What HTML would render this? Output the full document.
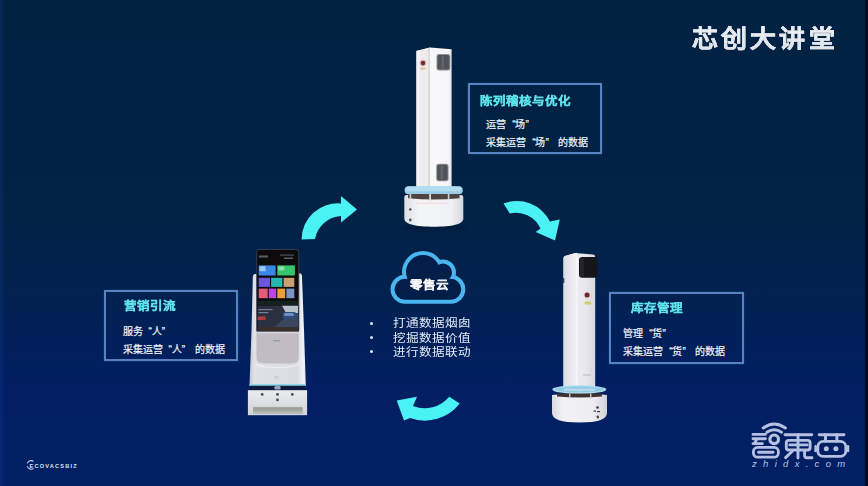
<!DOCTYPE html>
<html lang="zh-CN"><head><meta charset="utf-8">
<style>
*{margin:0;padding:0;box-sizing:border-box}
html,body{width:868px;height:486px;overflow:hidden}
body{position:relative;font-family:"Liberation Sans",sans-serif;
background:linear-gradient(180deg,rgb(2,34,66) 0%,rgb(2,34,70) 45%,rgb(2,34,78) 58%,rgb(1,32,90) 70%,rgb(1,31,98) 80%,rgb(1,31,99) 100%);}
.abs{position:absolute}
.title{left:691.5px;top:23px;font-size:26px;font-weight:bold;color:#eceff4;letter-spacing:3.3px;white-space:nowrap;line-height:32px;transform:scaleY(.91);transform-origin:50% 50%;-webkit-text-stroke:.35px #dfe3ea;background:linear-gradient(180deg,#ffffff 0%,#f2f4f7 45%,#d6dae2 100%);-webkit-background-clip:text;background-clip:text;-webkit-text-fill-color:transparent}
.box{position:absolute;width:134px;height:71px;border:2px solid #5882c0;box-shadow:0 0 2px rgba(70,130,210,.35)}
.box .t{position:absolute;font-size:12.5px;font-weight:bold;color:#5fe2ea;white-space:nowrap;line-height:14px;transform:scaleY(.9);transform-origin:0 50%;-webkit-text-stroke:.3px #5fe2ea}
.box .l{position:absolute;font-size:10px;color:#f2f4f8;white-space:nowrap;line-height:12px;-webkit-text-stroke:.2px #f2f4f8}
.bul{position:absolute;font-size:12.6px;color:#e6eaf6;white-space:nowrap;line-height:14px;transform:scaleY(.86);transform-origin:0 50%}
.qa{display:inline-block;width:.9em;text-align:right}.qb{display:inline-block;width:.9em;text-align:left}.sp{display:inline-block;width:4px}
.cl{font-size:12.5px;font-weight:bold;color:#f4f6fa;line-height:14px;white-space:nowrap;transform:scaleY(.9);transform-origin:0 50%;-webkit-text-stroke:.25px #f4f6fa;z-index:2}
.dot{position:absolute;width:3px;height:3px;border-radius:50%;background:#dfe6f0}
</style></head>
<body>
<div class="abs" style="left:0;top:0;width:3px;height:486px;background:rgba(30,70,170,.18)"></div>
<div class="abs" style="left:865px;top:0;width:3px;height:486px;background:#040a1c"></div>

<div class="abs title">芯创大讲堂</div>

<!-- boxes -->
<div class="box" style="left:468.3px;top:82.8px">
  <div class="t" style="left:10.2px;top:9.2px">陈列稽核与优化</div>
  <div class="l" style="left:16.2px;top:34.7px">运营<span class="qa">“</span>场<span class="qb">”</span></div>
  <div class="l" style="left:16.2px;top:52.7px">采集运营<span class="qa">“</span>场<span class="qb">”</span><span class="sp"></span>的数据</div>
</div>
<div class="box" style="left:104px;top:290px">
  <div class="t" style="left:18.3px;top:7.2px">营销引流</div>
  <div class="l" style="left:16.8px;top:34px">服务<span class="qa">“</span>人<span class="qb">”</span></div>
  <div class="l" style="left:16.8px;top:52px">采集运营<span class="qa">“</span>人<span class="qb">”</span><span class="sp"></span>的数据</div>
</div>
<div class="box" style="left:608.6px;top:291.7px;width:135px;height:72px">
  <div class="t" style="left:20.5px;top:7.7px">库存管理</div>
  <div class="l" style="left:12.9px;top:34.5px">管理<span class="qa">“</span>货<span class="qb">”</span></div>
  <div class="l" style="left:12.9px;top:52.8px">采集运营<span class="qa">“</span>货<span class="qb">”</span><span class="sp"></span>的数据</div>
</div>

<!-- bullets -->
<div class="abs cl" style="left:409.5px;top:277.5px">零售云</div>
<div class="dot" style="left:370px;top:322px"></div>
<div class="dot" style="left:370px;top:336px"></div>
<div class="dot" style="left:370px;top:350px"></div>
<div class="bul" style="left:393px;top:317.2px">打通数据烟囱</div>
<div class="bul" style="left:393px;top:331.6px">挖掘数据价值</div>
<div class="bul" style="left:393px;top:346px">进行数据联动</div>

<svg class="abs" style="left:0;top:0" width="868" height="486" viewBox="0 0 868 486">
  <defs>
    <linearGradient id="colL" x1="0" x2="1"><stop offset="0" stop-color="#e6ecf6"/><stop offset=".15" stop-color="#f6f7fa"/><stop offset=".3" stop-color="#efeced"/><stop offset=".8" stop-color="#eeeced"/><stop offset="1" stop-color="#cfd1d4"/></linearGradient>
    <linearGradient id="colR" x1="0" x2="1"><stop offset="0" stop-color="#f4f5f7"/><stop offset=".3" stop-color="#f8f8fa"/><stop offset=".9" stop-color="#f6f6f8"/><stop offset="1" stop-color="#e4e6ea"/></linearGradient>
    <linearGradient id="base" x1="0" x2="1"><stop offset="0" stop-color="#dcdfe4"/><stop offset=".25" stop-color="#f4f5f7"/><stop offset=".8" stop-color="#f0f1f4"/><stop offset="1" stop-color="#d4d7dc"/></linearGradient>
    <linearGradient id="colL2" x1="0" x2="1"><stop offset="0" stop-color="#dcdde4"/><stop offset=".5" stop-color="#e8e9ee"/><stop offset="1" stop-color="#f2f2f6"/></linearGradient>
    <linearGradient id="colR2" x1="0" x2="1"><stop offset="0" stop-color="#eeeef3"/><stop offset=".7" stop-color="#e8e8ee"/><stop offset="1" stop-color="#d6d7df"/></linearGradient>
    <linearGradient id="base2" x1="0" x2="1"><stop offset="0" stop-color="#d8dae0"/><stop offset=".2" stop-color="#f2f2f5"/><stop offset=".75" stop-color="#eeeef2"/><stop offset="1" stop-color="#cfd2d8"/></linearGradient>
    <linearGradient id="kbody" x1="0" x2="1"><stop offset="0" stop-color="#bfc3cc"/><stop offset=".08" stop-color="#dfe1e6"/><stop offset=".85" stop-color="#dadce2"/><stop offset=".95" stop-color="#f0f2f6"/><stop offset="1" stop-color="#e2e6ec"/></linearGradient>
    <linearGradient id="kbase" x1="0" x2="0" y1="0" y2="1"><stop offset="0" stop-color="#eaebee"/><stop offset="1" stop-color="#d2d3d8"/></linearGradient>
    <filter id="sh" x="-20%" y="-100%" width="140%" height="300%"><feGaussianBlur stdDeviation="1.2"/></filter>
  </defs>
  <!-- cloud -->
  <path d="M390.5,289.3 a14.5,14.5 0 1,0 29.0,0 a14.5,14.5 0 1,0 -29.0,0 Z M402,272 a21,21 0 1,0 42,0 a21,21 0 1,0 -42,0 Z M430,272.5 a13,13 0 1,0 26,0 a13,13 0 1,0 -26,0 Z M436.3,289.3 a14.5,14.5 0 1,0 29.0,0 a14.5,14.5 0 1,0 -29.0,0 Z M405,280 v23.8 h45.8 v-23.8 Z " fill="#4ab6f0"/>
  <path d="M394.5,289.3 a10.5,10.5 0 1,0 21.0,0 a10.5,10.5 0 1,0 -21.0,0 Z M406,272 a17,17 0 1,0 34,0 a17,17 0 1,0 -34,0 Z M434,272.5 a9,9 0 1,0 18,0 a9,9 0 1,0 -18,0 Z M440.3,289.3 a10.5,10.5 0 1,0 21.0,0 a10.5,10.5 0 1,0 -21.0,0 Z M405,280 v19.8 h45.8 v-19.8 Z " fill="#031e48"/>
  

  <!-- arrows -->
  <g fill="#4af2f5">
    <path d="M301.6,239.4 A36,36 0 0 1 341,203.5 L341,196 L357,209.5 L341,222.5 L341,216 A28,28 0 0 0 315,239 Z"/>
    <path d="M503.5,203.5 A37,37 0 0 1 550,221.5 L559.8,219.6 L555,240.6 L535.7,232 L540.5,228.5 A27,27 0 0 0 509.8,213.5 Z"/>
    <path d="M459.7,403.5 A44,44 0 0 1 410,418 L404,420.5 L396.7,400.4 L417,396.7 L413,406 A32,32 0 0 0 449.2,396.7 Z"/>
  </g>

  <!-- top robot -->
  <g>
    <path d="M416.4,51 L430,47.4 L451.6,49.3 L451.6,188 L416.4,188 Z" fill="url(#colR)"/>
    <path d="M416.4,51 L430,47.4 L430,188 L416.4,188 Z" fill="url(#colL)"/>
    <rect x="436.5" y="54" width="13.8" height="16.6" rx="2.5" fill="#8e9096"/>
    <rect x="437.5" y="55" width="11.8" height="14.6" rx="2" fill="#50535a"/>
    <rect x="441.5" y="56" width="2.5" height="12.6" fill="#62656c"/>
    <rect x="436.2" y="163.8" width="12.4" height="17.4" rx="2.5" fill="#8e9096"/>
    <rect x="437.2" y="164.8" width="10.4" height="15.4" rx="2" fill="#50535a"/>
    <rect x="440.5" y="166" width="2.5" height="13" fill="#62656c"/>
    <circle cx="423" cy="63.1" r="3.5" fill="#e2c4c8"/>
    <circle cx="423" cy="63.1" r="2.3" fill="#7a2a32"/>
    <rect x="420.3" y="67.8" width="5.4" height="1.8" rx=".6" fill="#dcc08a"/>
    <ellipse cx="434" cy="227.5" rx="31" ry="3.2" fill="#001530" opacity=".45" filter="url(#sh)"/>
    <path d="M404.3,197 Q404.3,195 406.5,195 L461,195 Q463.3,195 463.3,197 L463.3,218.5 C463.3,224.5 452,226.7 434,226.7 C416,226.7 404.3,224.5 404.3,218.5 Z" fill="url(#base)"/>
    <path d="M408,193 L459.5,193 L459.5,198.2 Q434,200.6 408,198.2 Z" fill="#4e4542"/>
    <rect x="409.6" y="193" width="1.6" height="6" fill="#cfd0d2"/>
    <rect x="429.2" y="193" width="1.8" height="7.5" fill="#d6d7d9"/>
    <rect x="447.8" y="193" width="1.6" height="6.5" fill="#cfd0d2"/>
    <rect x="416" y="202.6" width="33" height="1.2" fill="#f2dada"/>
    <rect x="404.6" y="186.3" width="58.2" height="7.8" rx="3.9" fill="#9ccde6"/>
    <rect x="406" y="186.6" width="55.4" height="4.6" rx="2.3" fill="#b2dcef"/>
    <circle cx="410.3" cy="209.4" r="1.2" fill="#4a4a4e"/>
    <rect x="409.2" y="218.4" width="2.2" height="3" rx="0.8" fill="#4a4a4e"/>
  </g>
  <!-- right robot -->
  <g>
    <path d="M563.5,258 Q563.5,256.4 565,256 L575,253 L593,254.6 Q595.2,255 595.2,257 L595.2,389 L563.5,389 Z" fill="url(#colR2)"/>
    <path d="M563.5,258 Q563.5,256.4 565,256 L577,252.8 L577,389 L563.5,389 Z" fill="url(#colL2)"/>
    <rect x="576.4" y="256" width="1.2" height="133" fill="#f8f8fb"/>
    <rect x="562.8" y="278" width="1.5" height="5" fill="#3a3f55"/>
    <rect x="579" y="257" width="18.8" height="20.8" rx="3.2" fill="#15161a"/>
    <rect x="580" y="258" width="4" height="18.8" rx="1.5" fill="#23252b"/>
    <circle cx="587.1" cy="295.1" r="3.6" fill="#e8cfd4"/>
    <circle cx="587.1" cy="295.1" r="2.5" fill="#6e2830"/>
    <rect x="584.6" y="301.6" width="6.6" height="3" rx="1.2" fill="#c9d16a"/>
    <rect x="583" y="374.5" width="8" height="1" fill="#b8bac2"/>
    <ellipse cx="579.3" cy="389.5" rx="27" ry="4.3" fill="#b4dcef"/>
    <ellipse cx="579.3" cy="389.4" rx="24.5" ry="2.9" fill="#8ccae6"/>
    <path d="M564,388.6 L595,388.6 L595,390.8 Q579.5,391.6 564,390.8 Z" fill="#dfe6ee" opacity=".55"/>
    <path d="M552,395 Q579.5,391.5 607,395 L607,413 Q607,422.5 579.5,422.5 Q552,422.5 552,413 Z" fill="url(#base2)"/>
    <path d="M557,393.6 L602,393.6 L602,396.6 Q579.5,398.6 557,396.6 Z" fill="#3e3533"/>
    <rect x="569" y="393.6" width="1.4" height="4.2" fill="#c8c8ca"/>
    <rect x="590" y="393.6" width="1.4" height="4.2" fill="#c8c8ca"/>
    <circle cx="597.5" cy="407.5" r="1.3" fill="#3a3a3e"/>
    <rect x="593.5" y="410.5" width="2.5" height="1.2" fill="#3a3a3e"/>
    <rect x="597" y="411" width="3" height="1.2" fill="#3a3a3e"/>
    <rect x="596.8" y="415.5" width="2" height="3" rx="0.8" fill="#3a3a3e"/>
  </g>

  <!-- left robot kiosk -->
  <g>
    <!-- body -->
    <path d="M252.8,278 Q252.8,274 255,274 L256.5,274 L256.5,331 L299,331 L298,274 L299.5,273.3 Q302,273.3 302,277 L304,330 L305.8,385.6 L249.5,385.6 L251.5,330 Z" fill="url(#kbody)"/>
    <path d="M256.4,331 L298.8,331 L298.8,357 Q298.8,363.5 291,363.5 L264,363.5 Q256.4,363.5 256.4,357 Z" fill="#bfbdc3"/>
    <rect x="256.4" y="331.2" width="42.4" height="2.2" fill="#d8d8dc"/>
    <path d="M255,364 Q262,367.5 277,367.5 Q292,367.5 300,364" fill="none" stroke="#eeeff2" stroke-width="1.2"/>
    <circle cx="276.4" cy="377.4" r="1.3" fill="none" stroke="#b0b2b8" stroke-width=".6"/>
    <rect x="273" y="340.3" width="7" height="1" fill="#8c8e96"/>
    <rect x="249.5" y="384" width="56.3" height="1.8" fill="#8fd6e6"/>
    <rect x="250" y="385.8" width="55" height="4.5" fill="#0c1a3c"/>
    <rect x="274.3" y="386" width="6.4" height="3.5" rx="1.5" fill="#9aa6b4"/>
    <!-- screen -->
    <path d="M256.9,252.6 Q256.9,249.4 259.8,249.4 L295.8,249.4 Q298.8,249.4 298.8,252.6 L298.8,331.2 L256.9,331.2 Z" fill="#0c0a0c" stroke="#3e4454" stroke-width=".9"/>
    <path d="M257.6,253 Q257.6,250.3 260,250.3 L295.5,250.3 Q298,250.3 298,253 L298,331 L257.6,331 Z" fill="#0e0b0c"/>
    <rect x="259" y="255.5" width="9" height="2" fill="#5a5e6a"/>
    <rect x="280" y="254.5" width="14" height="1.2" fill="#4a4e5a"/>
    <rect x="284" y="257.5" width="9" height="1.5" fill="#5a5e6a"/>
    <rect x="258.7" y="265.4" width="16.9" height="10.1" fill="#3a86e6"/>
    <rect x="259.5" y="266.2" width="6" height="5" fill="#9cc8f4"/>
    <rect x="277.3" y="265.4" width="17.6" height="10.1" fill="#38c46c"/>
    <rect x="278.3" y="266.4" width="6" height="4" fill="#8ae0a8"/>
    <rect x="258.7" y="277.8" width="11.3" height="9.1" fill="#6a58dc"/>
    <rect x="271.1" y="277.8" width="11.3" height="9.1" fill="#26b8b0"/>
    <rect x="283.6" y="277.8" width="10.7" height="9.1" fill="#c8a070"/>
    <rect x="258.7" y="288.6" width="9" height="9.6" fill="#e45a78"/>
    <rect x="268.8" y="288.6" width="7.4" height="9.6" fill="#b648e0"/>
    <rect x="277.3" y="288.6" width="7.9" height="9.6" fill="#eaa03a"/>
    <rect x="286.4" y="288.6" width="7.9" height="9.6" fill="#7a94c4"/>
    <rect x="257.6" y="300.7" width="40.4" height="5" fill="#13221e"/>
    <path d="M257.6,305.7 L298,305.7 L298,331 L257.6,331 Z" fill="#2a3040"/>
    <path d="M270,331 L298,306 L298,331 Z" fill="#3a4560"/>
    <path d="M282,305.7 L298,305.7 L298,313 L286,313 Z" fill="#b8c0cc"/>
    <rect x="282.5" y="312" width="14" height="7" rx="3" fill="#2e4c80"/>
    <rect x="284" y="313" width="10" height="3" rx="1.5" fill="#6e90c0"/>
    <rect x="257.6" y="316.5" width="8" height="3.5" fill="#b83a3a"/>
    <rect x="258.5" y="309" width="14" height="1.2" fill="#7a8090"/>
    <rect x="258.5" y="312" width="10" height="1.2" fill="#7a8090"/>
    <rect x="257.6" y="327" width="40.4" height="4" fill="#3a2e2a"/>
    <!-- base -->
    <rect x="247.9" y="390.2" width="59.2" height="25" fill="url(#kbase)"/>
    <rect x="253" y="406.9" width="49.6" height="6.6" fill="#a6a8a2"/>
    <rect x="253" y="408.6" width="49.6" height="0.8" fill="#95978f"/>
    <rect x="253" y="411.5" width="49.6" height="2" fill="#b8bab6"/>
    <circle cx="262.2" cy="394.4" r="1.4" fill="#4a4c52"/>
    <circle cx="277.5" cy="394.4" r="1.4" fill="#4a4c52"/>
    <circle cx="292.3" cy="394.4" r="1.4" fill="#4a4c52"/>
    <circle cx="277.5" cy="399.9" r="1.4" fill="#4a4c52"/>
  </g>

  <!-- zhidx logo -->
  <g fill="none" stroke="#b6c0e2" stroke-width="2.9" stroke-linecap="round" stroke-linejoin="round">
    <path d="M763.2,428 Q774.2,420 785.4,428"/>
    <path d="M766.8,432.3 Q774.2,427.2 781.6,432.3"/>
    <circle cx="774.2" cy="439.3" r="4.3" stroke-width="3.2"/>
    <path d="M753,434.4 H765.4 M753,438.8 H765.4 M753,443.6 H762.4 M757,438.8 L754.5,443.6"/>
    <rect x="753.4" y="447.4" width="25" height="9.8" rx="4.2" stroke-width="2.8"/>
    <path d="M758.6,452.2 H773"/>
    <path d="M785,434.7 H811.8"/>
    <rect x="786.3" y="440.4" width="23.8" height="9.6" rx="2.5"/>
    <path d="M789.8,444.9 H807 M798,434.7 V458"/>
    <path d="M792.2,451.2 L785.6,457.6 M804.6,451.2 V455.5 Q804.6,457.7 807,457.7 H812"/>
    <path d="M819.2,434.7 H844"/>
    <path d="M825.5,434.7 V441 M836.9,434.7 V441"/>
    <rect x="817.8" y="441.4" width="28" height="15" rx="5.5" stroke-width="2.8"/>
    <path d="M815.6,446.4 V451 M848,446.4 V451" stroke-width="2.6"/>
    <circle cx="826.3" cy="448.8" r="2.5" fill="#b6c0e2" stroke="none"/>
    <circle cx="835.9" cy="448.8" r="2.5" fill="#b6c0e2" stroke="none"/>
  </g>
</svg>

<div class="abs" style="left:752px;top:459.3px;font-size:9.5px;color:#b6c0e2;letter-spacing:6.3px;line-height:10px;white-space:nowrap;font-style:italic">zhidx.com</div>
<div class="abs" style="left:29.6px;top:462.6px;font-size:5.6px;color:#dce4f4;font-weight:bold;letter-spacing:1.2px;line-height:7px;white-space:nowrap">ECOVACSBIZ</div>
<svg class="abs" style="left:0;top:0" width="868" height="486"><path d="M33.5,461.2 A4.2,4.2 0 0 0 27.3,463.4 M27.3,466.4 A4.2,4.2 0 0 0 33.5,468.6" fill="none" stroke="#c8d4ee" stroke-width="1.2"/></svg>
</body></html>
